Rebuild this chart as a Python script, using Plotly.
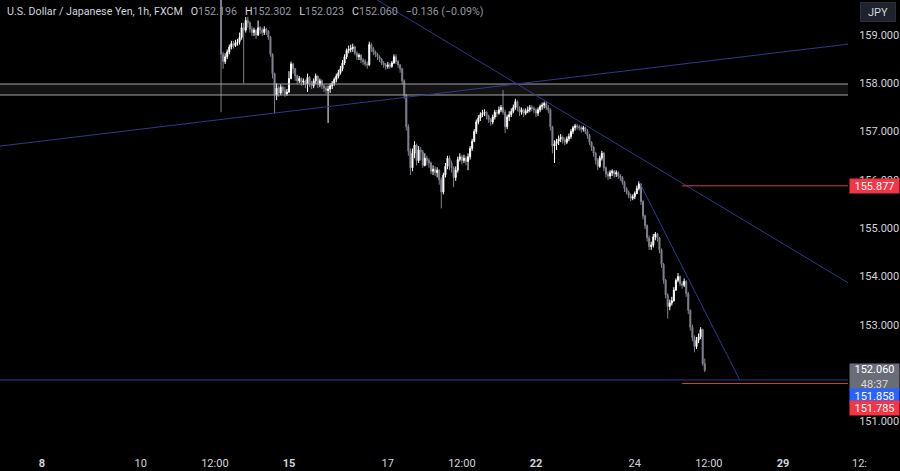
import plotly.graph_objects as go

# ---------------- data (1h USD/JPY candles, FXCM) ----------------
# x = trading-hour index counted from Mon 8 Jul 00:00 with weekends removed
bar_hour = list(range(86, 323))

opens = [
    161.55, 160.00, 158.60, 158.45, 158.55, 158.65, 158.75, 158.82, 158.78, 158.84,
    158.86, 158.95, 159.15, 159.10, 159.30, 159.25, 159.12, 159.05, 159.10, 159.00,
    159.15, 159.10, 159.05, 159.12, 159.08, 158.95, 158.60, 158.20, 157.75, 157.90,
    157.80, 157.92, 157.85, 157.78, 157.82, 158.10, 158.40, 158.30, 158.15, 158.05,
    158.10, 158.02, 158.05, 157.98, 158.12, 158.00, 157.95, 158.05, 158.15, 157.98,
    158.05, 157.95, 157.90, 157.85, 157.88, 157.95, 158.00, 158.08, 158.15, 158.22,
    158.30, 158.42, 158.55, 158.68, 158.70, 158.72, 158.75, 158.62, 158.55, 158.58,
    158.48, 158.45, 158.40, 158.38, 158.80, 158.72, 158.65, 158.60, 158.55, 158.50,
    158.42, 158.38, 158.35, 158.38, 158.35, 158.42, 158.55, 158.45, 158.38, 158.30,
    158.05, 157.75, 157.10, 156.60, 156.25, 156.55, 156.72, 156.40, 156.62, 156.58,
    156.30, 156.45, 156.40, 156.35, 156.18, 156.22, 156.15, 156.20, 156.00, 155.75,
    156.10, 156.28, 156.45, 156.35, 156.25, 156.05, 156.20, 156.42, 156.48, 156.40,
    156.45, 156.38, 156.48, 156.65, 156.80, 157.00, 157.20, 157.28, 157.35, 157.38,
    157.40, 157.32, 157.25, 157.20, 157.30, 157.40, 157.38, 157.45, 157.50, 157.40,
    157.10, 157.30, 157.35, 157.42, 157.50, 157.62, 157.50, 157.40, 157.45, 157.38,
    157.42, 157.45, 157.50, 157.48, 157.45, 157.38, 157.45, 157.52, 157.55, 157.58,
    157.50, 157.45, 157.10, 156.70, 156.75, 156.80, 156.85, 156.88, 156.82, 156.78,
    156.85, 156.90, 157.00, 157.08, 157.12, 157.10, 157.08, 157.05, 157.08, 157.00,
    156.92, 156.78, 156.68, 156.55, 156.40, 156.28, 156.45, 156.55, 156.25, 156.12,
    156.08, 156.15, 156.18, 156.12, 156.15, 156.08, 156.05, 155.95, 155.82, 155.75,
    155.68, 155.62, 155.65, 155.72, 155.82, 155.92, 155.55, 155.25, 155.05, 154.80,
    154.62, 154.65, 154.82, 154.88, 154.80, 154.55, 154.25, 153.92, 153.62, 153.38,
    153.45, 153.50, 153.72, 153.92, 154.00, 153.85, 153.82, 153.90, 153.65, 153.30,
    152.95, 152.74, 152.55, 152.68, 152.75, 152.90, 152.196,
]
highs = [
    161.70, 160.05, 158.65, 158.62, 158.70, 158.80, 158.88, 158.88, 158.90, 158.92,
    159.05, 159.25, 159.25, 159.37, 159.38, 159.28, 159.18, 159.15, 159.12, 159.30,
    159.18, 159.15, 159.18, 159.15, 159.10, 158.98, 158.62, 158.22, 158.00, 157.95,
    157.98, 157.95, 157.92, 157.88, 158.25, 158.45, 158.42, 158.32, 158.18, 158.15,
    158.12, 158.10, 158.08, 158.20, 158.15, 158.05, 158.10, 158.20, 158.16, 158.10,
    158.08, 157.98, 157.95, 157.95, 158.00, 158.05, 158.12, 158.20, 158.28, 158.36,
    158.48, 158.60, 158.72, 158.78, 158.80, 158.82, 158.78, 158.66, 158.62, 158.60,
    158.52, 158.50, 158.45, 158.86, 158.84, 158.75, 158.68, 158.63, 158.58, 158.52,
    158.46, 158.42, 158.44, 158.42, 158.46, 158.60, 158.60, 158.48, 158.40, 158.32,
    158.08, 157.78, 157.15, 156.65, 156.65, 156.80, 156.75, 156.70, 156.68, 156.62,
    156.55, 156.50, 156.45, 156.38, 156.30, 156.28, 156.26, 156.22, 156.05, 156.15,
    156.35, 156.50, 156.50, 156.40, 156.28, 156.28, 156.48, 156.55, 156.52, 156.52,
    156.50, 156.55, 156.70, 156.85, 157.05, 157.25, 157.34, 157.40, 157.45, 157.46,
    157.42, 157.35, 157.28, 157.35, 157.45, 157.45, 157.52, 157.55, 157.86, 157.45,
    157.35, 157.42, 157.48, 157.56, 157.68, 157.65, 157.52, 157.50, 157.48, 157.48,
    157.52, 157.55, 157.55, 157.52, 157.48, 157.50, 157.56, 157.60, 157.62, 157.62,
    157.55, 157.48, 157.12, 156.82, 156.85, 156.92, 156.95, 156.92, 156.88, 156.90,
    156.96, 157.05, 157.12, 157.16, 157.16, 157.14, 157.12, 157.12, 157.10, 157.05,
    156.95, 156.80, 156.70, 156.58, 156.45, 156.50, 156.60, 156.58, 156.28, 156.18,
    156.20, 156.22, 156.20, 156.20, 156.18, 156.12, 156.08, 155.98, 155.85, 155.78,
    155.72, 155.70, 155.76, 155.88, 155.97, 155.92, 155.58, 155.28, 155.08, 154.85,
    154.72, 154.88, 154.92, 154.90, 154.82, 154.58, 154.28, 153.95, 153.65, 153.52,
    153.58, 153.78, 153.96, 154.07, 154.02, 153.90, 153.96, 153.92, 153.68, 153.32,
    153.00, 152.78, 152.75, 152.82, 152.95, 152.92, 152.302,
]
lows = [
    159.90, 157.40, 158.30, 158.40, 158.50, 158.60, 158.70, 158.72, 158.75, 158.78,
    158.80, 158.90, 158.00, 159.05, 159.15, 159.05, 158.98, 158.98, 158.92, 158.98,
    159.02, 158.98, 159.00, 159.00, 158.90, 158.55, 158.10, 157.38, 157.65, 157.72,
    157.75, 157.78, 157.72, 157.74, 157.80, 158.08, 158.20, 158.05, 157.98, 158.00,
    157.95, 157.96, 157.90, 157.82, 157.92, 157.88, 157.90, 157.98, 157.90, 157.92,
    157.88, 157.82, 157.78, 157.18, 157.80, 157.88, 157.95, 158.02, 158.10, 158.18,
    158.25, 158.38, 158.50, 158.62, 158.64, 158.65, 158.58, 158.48, 158.48, 158.42,
    158.38, 158.35, 158.30, 158.36, 158.65, 158.58, 158.54, 158.48, 158.44, 158.38,
    158.32, 158.28, 158.30, 158.30, 158.32, 158.40, 158.40, 158.32, 158.22, 157.98,
    157.68, 157.02, 156.50, 156.10, 156.18, 156.45, 156.30, 156.35, 156.40, 156.25,
    156.28, 156.30, 156.25, 156.12, 156.10, 156.08, 156.05, 155.90, 155.41, 155.70,
    156.05, 156.22, 156.20, 156.15, 155.85, 155.98, 156.15, 156.38, 156.32, 156.35,
    156.30, 156.20, 156.42, 156.60, 156.78, 156.95, 157.15, 157.22, 157.30, 157.32,
    157.25, 157.18, 157.12, 157.15, 157.25, 157.30, 157.35, 157.40, 157.35, 156.97,
    157.05, 157.22, 157.30, 157.38, 157.45, 157.42, 157.32, 157.35, 157.30, 157.34,
    157.38, 157.40, 157.42, 157.38, 157.30, 157.32, 157.40, 157.45, 157.48, 157.45,
    157.38, 157.02, 156.55, 156.35, 156.62, 156.72, 156.78, 156.75, 156.72, 156.74,
    156.80, 156.85, 156.95, 157.02, 157.04, 157.02, 156.98, 157.00, 156.95, 156.85,
    156.72, 156.60, 156.48, 156.32, 156.20, 156.25, 156.40, 156.18, 156.05, 156.00,
    156.02, 156.08, 156.05, 156.06, 156.02, 155.98, 155.90, 155.75, 155.70, 155.62,
    155.56, 155.58, 155.60, 155.70, 155.78, 155.48, 155.18, 154.98, 154.72, 154.55,
    154.55, 154.60, 154.75, 154.72, 154.48, 154.18, 153.85, 153.55, 153.13, 153.30,
    153.40, 153.48, 153.70, 153.88, 153.80, 153.75, 153.78, 153.58, 153.22, 152.88,
    152.66, 152.43, 152.50, 152.62, 152.70, 152.15, 152.023,
]
closes = [
    160.00, 158.60, 158.45, 158.55, 158.65, 158.75, 158.82, 158.78, 158.84, 158.86,
    158.95, 159.15, 159.10, 159.30, 159.25, 159.12, 159.05, 159.10, 159.00, 159.15,
    159.10, 159.05, 159.12, 159.08, 158.95, 158.60, 158.20, 157.75, 157.90, 157.80,
    157.92, 157.85, 157.78, 157.82, 158.10, 158.40, 158.30, 158.15, 158.05, 158.10,
    158.02, 158.05, 157.98, 158.12, 158.00, 157.95, 158.05, 158.15, 157.98, 158.05,
    157.95, 157.90, 157.85, 157.88, 157.95, 158.00, 158.08, 158.15, 158.22, 158.30,
    158.42, 158.55, 158.68, 158.70, 158.72, 158.75, 158.62, 158.55, 158.58, 158.48,
    158.45, 158.40, 158.38, 158.80, 158.72, 158.65, 158.60, 158.55, 158.50, 158.42,
    158.38, 158.35, 158.38, 158.35, 158.42, 158.55, 158.45, 158.38, 158.30, 158.05,
    157.75, 157.10, 156.60, 156.25, 156.55, 156.72, 156.40, 156.62, 156.58, 156.30,
    156.45, 156.40, 156.35, 156.18, 156.22, 156.15, 156.20, 156.00, 155.75, 156.10,
    156.28, 156.45, 156.35, 156.25, 156.05, 156.20, 156.42, 156.48, 156.40, 156.45,
    156.38, 156.48, 156.65, 156.80, 157.00, 157.20, 157.28, 157.35, 157.38, 157.40,
    157.32, 157.25, 157.20, 157.30, 157.40, 157.38, 157.45, 157.50, 157.40, 157.10,
    157.30, 157.35, 157.42, 157.50, 157.62, 157.50, 157.40, 157.45, 157.38, 157.42,
    157.45, 157.50, 157.48, 157.45, 157.38, 157.45, 157.52, 157.55, 157.58, 157.50,
    157.45, 157.10, 156.70, 156.75, 156.80, 156.85, 156.88, 156.82, 156.78, 156.85,
    156.90, 157.00, 157.08, 157.12, 157.10, 157.08, 157.05, 157.08, 157.00, 156.92,
    156.78, 156.68, 156.55, 156.40, 156.28, 156.45, 156.55, 156.25, 156.12, 156.08,
    156.15, 156.18, 156.12, 156.15, 156.08, 156.05, 155.95, 155.82, 155.75, 155.68,
    155.62, 155.65, 155.72, 155.82, 155.92, 155.55, 155.25, 155.05, 154.80, 154.62,
    154.65, 154.82, 154.88, 154.80, 154.55, 154.25, 153.92, 153.62, 153.38, 153.45,
    153.50, 153.72, 153.92, 154.00, 153.85, 153.82, 153.90, 153.65, 153.30, 152.95,
    152.74, 152.55, 152.68, 152.75, 152.90, 152.196, 152.060,
]

# time axis labels (trading-hour positions)
tick_hours = [0, 48, 84, 120, 168, 204, 240, 288, 324, 360]
tick_labels = ["<b>8</b>", "10", "12:00", "<b>15</b>", "17", "12:00",
               "<b>22</b>", "24", "12:00", "<b>29</b>"]

price_ticks = [151, 152, 153, 154, 155, 156, 157, 158, 159]
price_tick_labels = ["151.000", "152.000", "153.000", "154.000", "155.000",
                     "156.000", "157.000", "158.000", "159.000"]

# drawings
zone_low, zone_high = 157.757, 157.985
support_level = 151.858
red_levels = [155.877, 151.785]
red_start_hour = 311
rising_line = [(-20.4, 156.70), (391.6, 158.81)]
falling_line = [(162.8, 159.725), (391.6, 153.87)]
steep_line = [(290, 155.97), (339, 151.858)]

last_price = 152.060
countdown = "48:37"

# ---------------- figure ----------------
X_RANGE = [-20.4, 391.6]
Y_RANGE = [150.47, 159.724]
TXT = "#d1d4dc"
BLUE = "#2c3a8f"
RED_LINE = "#d63d4c"

fig = go.Figure()
fig.add_trace(go.Candlestick(
    x=bar_hour, open=opens, high=highs, low=lows, close=closes,
    increasing=dict(line=dict(color="#ffffff", width=1), fillcolor="#ffffff"),
    decreasing=dict(line=dict(color="#80838d", width=1), fillcolor="#80838d"),
    whiskerwidth=0, hoverinfo="skip", showlegend=False,
))

shapes = []
shapes.append(dict(type="rect", xref="paper", x0=0, x1=1, yref="y", y0=zone_low, y1=zone_high,
                   fillcolor="rgba(255,255,255,0.07)", line=dict(width=0), layer="below"))
for lv in (zone_low, zone_high):
    shapes.append(dict(type="line", xref="paper", x0=0, x1=1, yref="y", y0=lv, y1=lv,
                       line=dict(color="#a3a3a3", width=1)))
for (a, b) in (rising_line, falling_line, steep_line):
    shapes.append(dict(type="line", xref="x", yref="y", x0=a[0], y0=a[1], x1=b[0], y1=b[1],
                       line=dict(color=BLUE, width=1)))
shapes.append(dict(type="line", xref="paper", x0=0, x1=1, yref="y", y0=support_level,
                   y1=support_level, line=dict(color=BLUE, width=1)))
for lv in red_levels:
    shapes.append(dict(type="line", xref="x", yref="y", x0=red_start_hour, x1=X_RANGE[1],
                       y0=lv, y1=lv, line=dict(color=RED_LINE, width=1)))

FONT = "Roboto, Arial, sans-serif"
VAL = "#9598a1"
GAP = "&nbsp;&nbsp;&nbsp;"
title = (f"U.S. Dollar / Japanese Yen, 1h, FXCM{GAP}"
         f"O<span style='color:{VAL}'>{opens[-1]:.3f}</span>{GAP}"
         f"H<span style='color:{VAL}'>{highs[-1]:.3f}</span>{GAP}"
         f"L<span style='color:{VAL}'>{lows[-1]:.3f}</span>{GAP}"
         f"C<span style='color:{VAL}'>{closes[-1]:.3f}</span>{GAP}"
         f"<span style='color:{VAL}'>−{opens[-1]-closes[-1]:.3f} (−0.09%)</span>")

ann = []
ann.append(dict(text=title, xref="paper", yref="paper", x=0, y=1, xanchor="left", yanchor="top",
                xshift=5, yshift=-3, showarrow=False, font=dict(color=TXT, size=10.7, family=FONT)))
ann.append(dict(text="JPY", xref="paper", yref="paper", x=1, y=1, xanchor="left", yanchor="top",
                xshift=12, yshift=-2, showarrow=False, width=32, height=16,
                bgcolor="#1e222d", bordercolor="#2a2e39", borderwidth=1,
                font=dict(color=TXT, size=11, family=FONT)))


def price_box(text, y, color, yshift=0, yanchor="middle", height=12):
    return dict(text=text, xref="paper", yref="y", x=1, y=y, xanchor="left", yanchor=yanchor,
                xshift=1, yshift=yshift, showarrow=False, width=47, height=height,
                bgcolor=color, borderpad=1, font=dict(color="#ffffff", size=11, family=FONT))


ann.append(price_box(f"{red_levels[0]:.3f}", red_levels[0], "#f23645"))
ann.append(price_box(f"{last_price:.3f}<br><span style='color:#d8d8d8'>{countdown}</span>",
                     last_price, "#6a6d78", yshift=7, yanchor="top", height=24))
ann.append(price_box(f"{support_level:.3f}", support_level, "#2962ff", yshift=-16))
ann.append(price_box(f"{red_levels[1]:.3f}", red_levels[1], "#f23645", yshift=-25))
ann.append(dict(text="12:", xref="paper", yref="paper", x=1, y=0, xanchor="left", yanchor="middle",
                xshift=2, yshift=-16, showarrow=False, font=dict(color=TXT, size=11, family=FONT)))

fig.update_layout(
    width=900, height=471,
    margin=dict(l=0, r=52, t=0, b=24),
    paper_bgcolor="#000000", plot_bgcolor="#000000",
    font=dict(family=FONT, color=TXT, size=11),
    shapes=shapes, annotations=ann,
    showlegend=False,
    xaxis=dict(range=X_RANGE, tickvals=tick_hours, ticktext=tick_labels,
               showgrid=False, zeroline=False, showline=False,
               ticks="outside", ticklen=6, tickcolor="rgba(0,0,0,0)",
               tickfont=dict(color=TXT, size=11, family=FONT),
               rangeslider=dict(visible=False), fixedrange=True),
    yaxis=dict(range=Y_RANGE, side="right", tickvals=price_ticks, ticktext=price_tick_labels,
               showgrid=False, zeroline=False, showline=False,
               ticks="outside", ticklen=8, tickcolor="rgba(0,0,0,0)",
               tickfont=dict(color=TXT, size=11, family=FONT), fixedrange=True),
)

fig.write_html(
    "out.html",
    config={"displayModeBar": False},
    post_script="document.body.style.margin='0';document.body.style.padding='0';"
                "document.body.style.background='#000';document.body.style.overflow='hidden';",
)
